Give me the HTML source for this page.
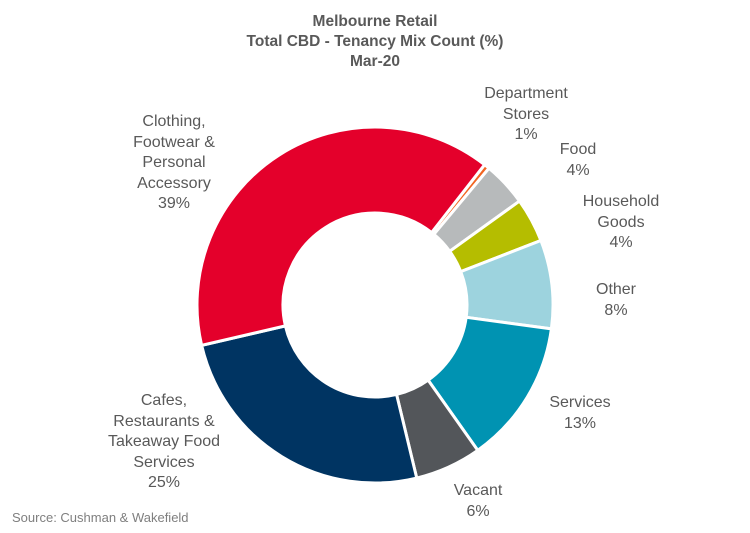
<!DOCTYPE html>
<html><head><meta charset="utf-8"><style>
body{margin:0;background:#fff;font-family:"Liberation Sans",sans-serif}
#c{position:relative;width:750px;height:533px;overflow:hidden}
.t{position:absolute;left:0;width:750px;text-align:center;font-weight:bold;font-size:15.5px;color:#595959;line-height:20px}
.l{position:absolute;text-align:center;font-size:16px;color:#595959;line-height:20.5px;transform:translateX(-50%);white-space:nowrap}
</style></head><body>
<div id="c">
<div class="t" style="top:12px">Melbourne Retail<br>Total CBD - Tenancy Mix Count (%)<br>Mar-20</div>
<svg id="s" width="750" height="533" style="position:absolute;left:0;top:0"></svg>
<div class="l" style="left:526px;top:84px">Department<br>Stores<br>1%</div>
<div class="l" style="left:578px;top:140px">Food<br>4%</div>
<div class="l" style="left:621px;top:192px">Household<br>Goods<br>4%</div>
<div class="l" style="left:616px;top:280px">Other<br>8%</div>
<div class="l" style="left:580px;top:393px">Services<br>13%</div>
<div class="l" style="left:478px;top:481px">Vacant<br>6%</div>
<div class="l" style="left:164px;top:391px">Cafes,<br>Restaurants &amp;<br>Takeaway Food<br>Services<br>25%</div>
<div class="l" style="left:174px;top:112px">Clothing,<br>Footwear &amp;<br>Personal<br>Accessory<br>39%</div>
<div style="position:absolute;left:12px;top:510px;font-size:13px;color:#7f7f7f">Source: Cushman &amp; Wakefield</div>
</div>
<script>
const categories=["Department Stores","Food","Household Goods","Other","Services","Vacant","Cafes, Restaurants & Takeaway Food Services","Clothing, Footwear & Personal Accessory"];
const values=[0.5,4,4,8,13,6,25,39];
const colors=["#f26522","#b7babb","#b5bd00","#9dd3de","#0093b2","#53565a","#003462","#e4002b"];
const svg=document.getElementById('s');
const cx=375,cy=305,R=178,r=92,start=38;
const total=values.reduce((a,b)=>a+b,0);
function pt(a,rad){const t=(a-90)*Math.PI/180;return [cx+rad*Math.cos(t),cy+rad*Math.sin(t)];}
let acc=start;
values.forEach((v,i)=>{
 const a0=acc,a1=acc+v/total*360;acc=a1;
 const lg=(a1-a0)>180?1:0;
 const p0=pt(a0,R),p1=pt(a1,R),q1=pt(a1,r),q0=pt(a0,r);
 const p=document.createElementNS('http://www.w3.org/2000/svg','path');
 p.setAttribute('d',`M${p0[0]},${p0[1]}A${R},${R} 0 ${lg} 1 ${p1[0]},${p1[1]}L${q1[0]},${q1[1]}A${r},${r} 0 ${lg} 0 ${q0[0]},${q0[1]}Z`);
 p.setAttribute('fill',colors[i]);p.setAttribute('stroke','#fff');p.setAttribute('stroke-width','3');
 
 
 svg.appendChild(p);
});
</script>
</body></html>
